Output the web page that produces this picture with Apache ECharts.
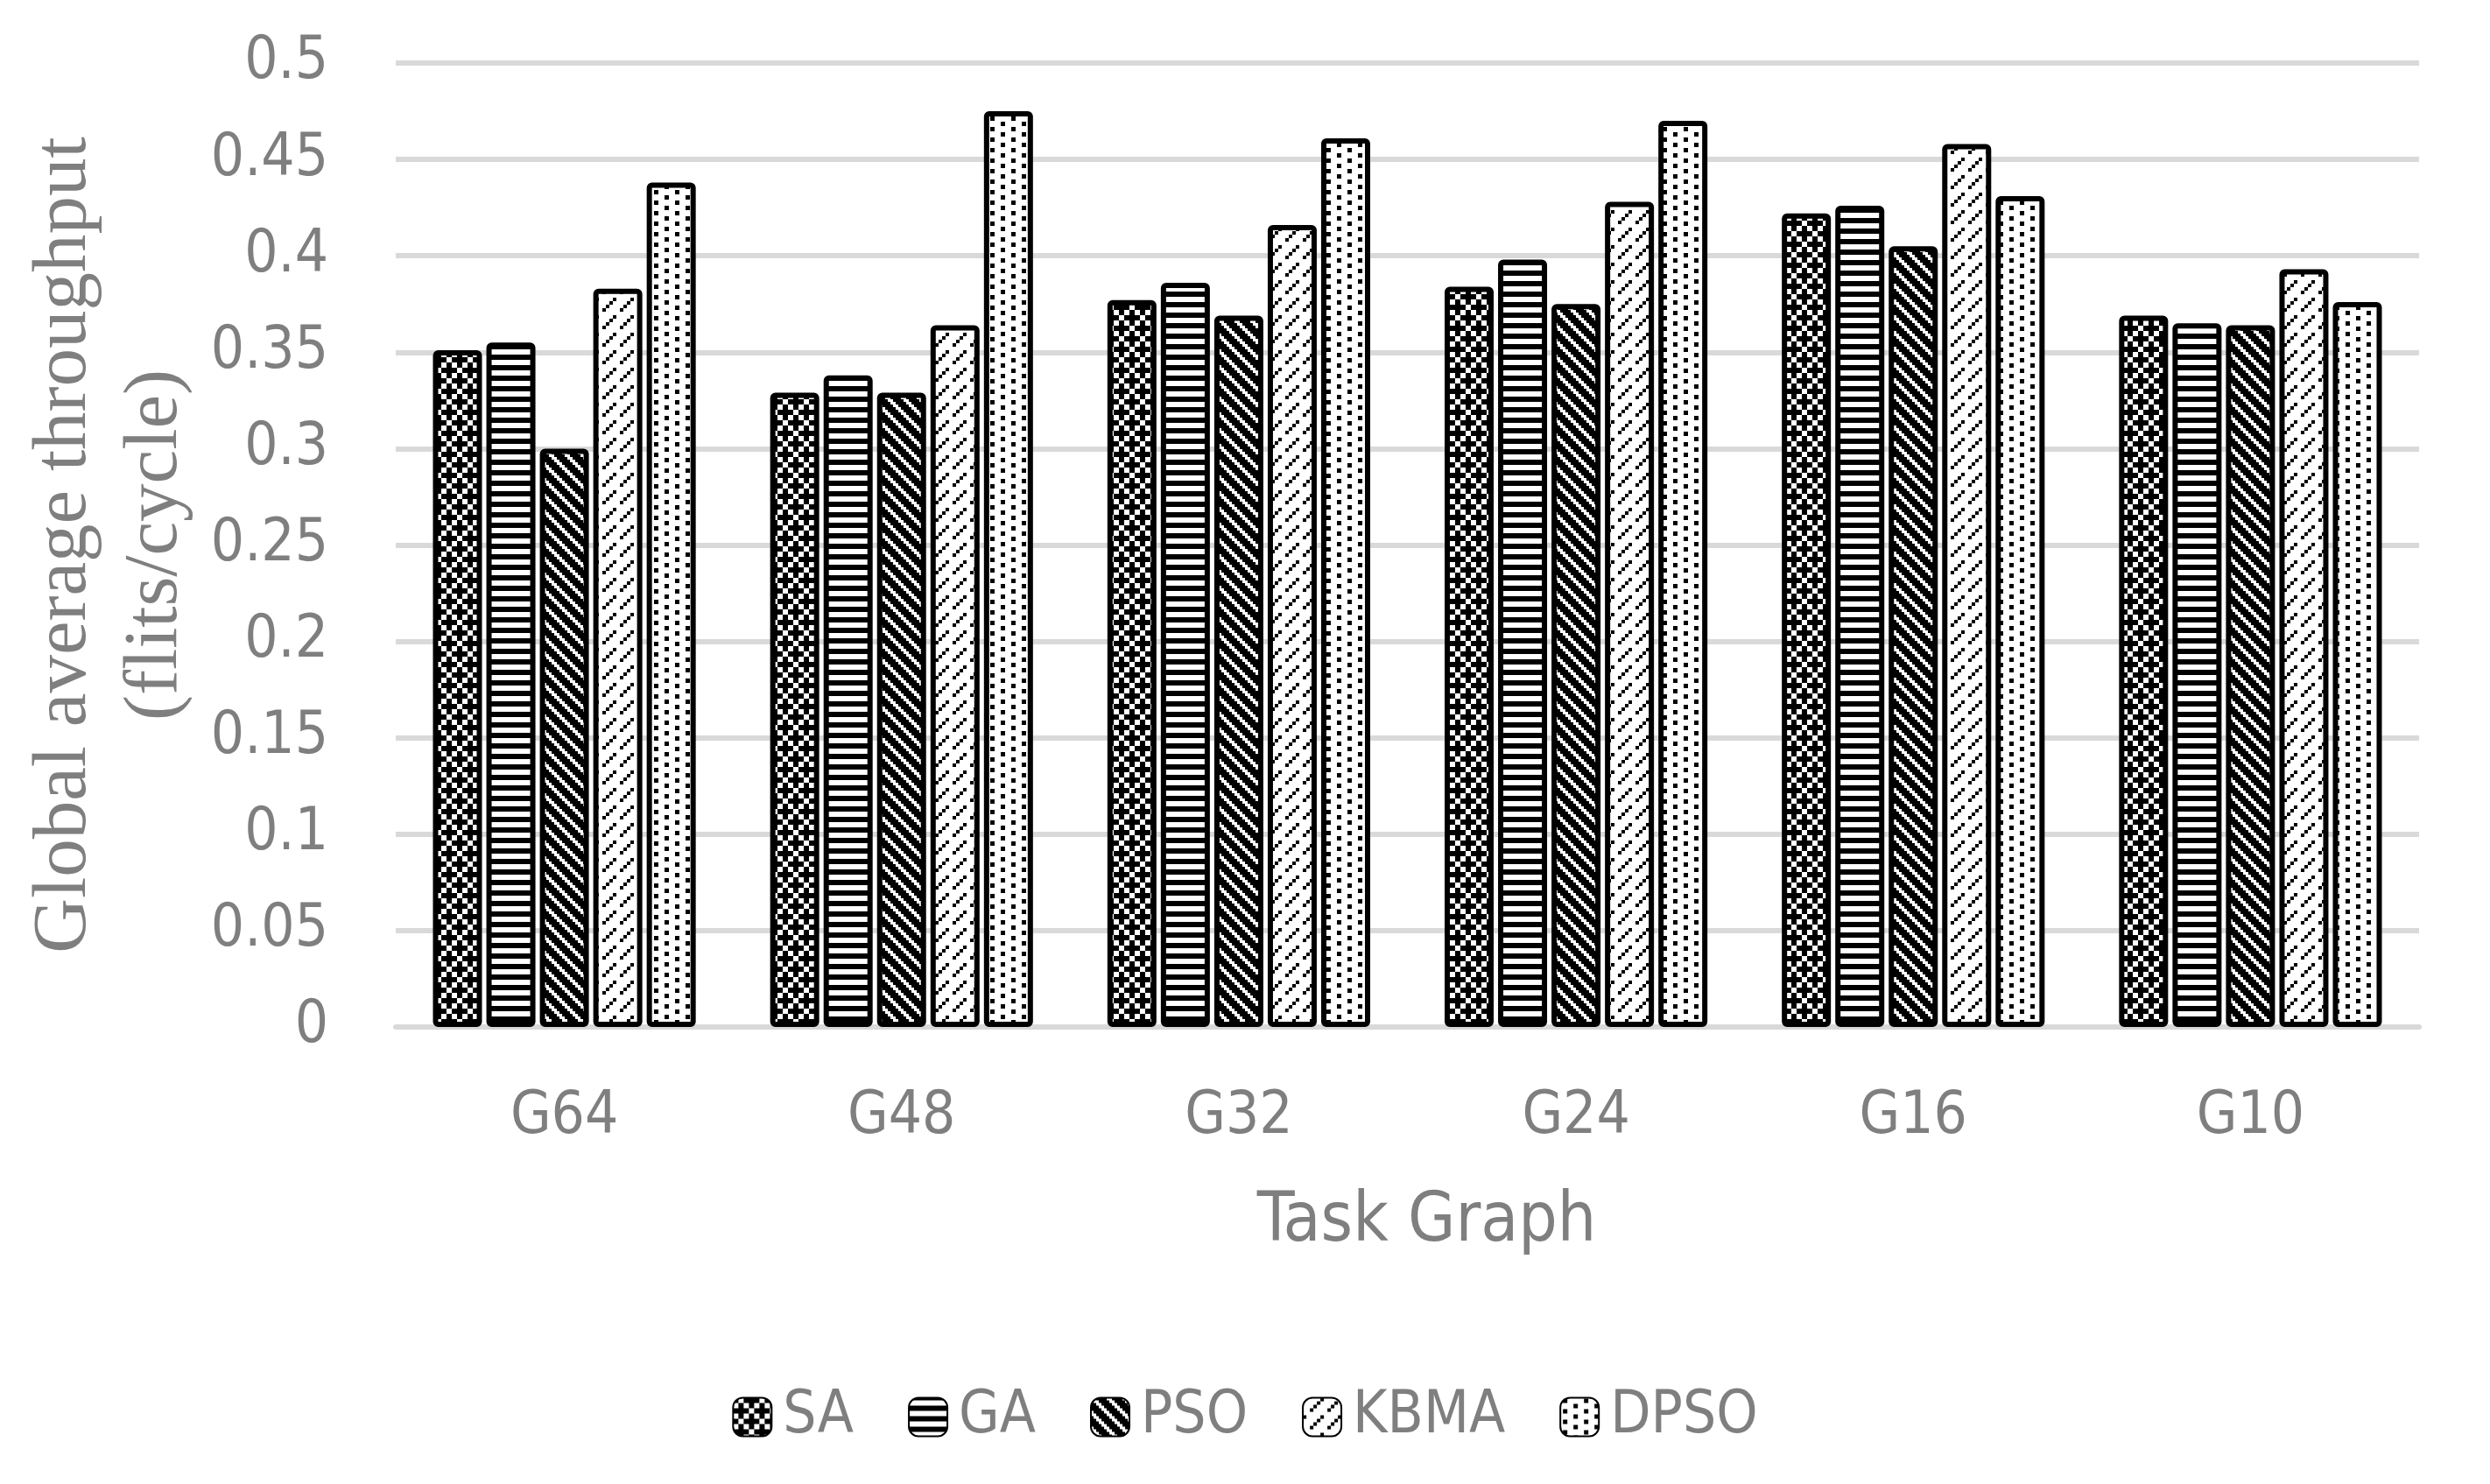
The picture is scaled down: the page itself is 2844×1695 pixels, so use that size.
<!DOCTYPE html>
<html>
<head>
<meta charset="utf-8">
<script src="https://cdn.jsdelivr.net/npm/echarts@6/dist/echarts.min.js"></script>
<style>
html,body{margin:0;padding:0;background:#fff;}
#chart{width:2844px;height:1695px;}
</style>
</head>
<body>
<div id="chart"></div>
<script>
// ---- data ----
var categories = ['G64', 'G48', 'G32', 'G24', 'G16', 'G10'];
var seriesNames = ['SA', 'GA', 'PSO', 'KBMA', 'DPSO'];
var SA   = [0.351, 0.329, 0.377, 0.384, 0.422, 0.369];
var GA   = [0.355, 0.338, 0.386, 0.398, 0.426, 0.365];
var PSO  = [0.300, 0.329, 0.369, 0.375, 0.405, 0.364];
var KBMA = [0.383, 0.364, 0.416, 0.428, 0.458, 0.393];
var DPSO = [0.438, 0.475, 0.461, 0.470, 0.431, 0.376];
var yTicks = {min: 0, max: 0.5, interval: 0.05};

// ---- pattern tiles ----
function tile(w, h, bg, draw) {
  var c = document.createElement('canvas');
  c.width = w; c.height = h;
  var g = c.getContext('2d');
  g.fillStyle = bg; g.fillRect(0, 0, w, h);
  draw(g);
  return c;
}
function cellMatrix(mat, cw, ch, fg) {
  return function (g) {
    g.fillStyle = fg;
    for (var r = 0; r < mat.length; r++)
      for (var c = 0; c < mat[r].length; c++)
        if (mat[r][c]) g.fillRect(c * cw, r * ch, cw, ch);
  };
}
// SA: black with white lattice
var saTile = tile(24, 24, '#000', cellMatrix([
  [0,1,0,0],
  [1,0,1,0],
  [0,0,0,1],
  [1,0,1,0]
], 6, 6, '#fff'));
// GA: horizontal stripes
var gaTile = tile(12, 12, '#000', function (g) { g.fillStyle = '#fff'; g.fillRect(0, 3, 12, 6); });
// PSO: wide downward diagonal (black dominant)
var psoMat = [];
for (var r = 0; r < 6; r++) { var row = []; for (var c = 0; c < 6; c++) row.push(((c - r + 12) % 6) < 2 ? 1 : 0); psoMat.push(row); }
var psoTile = tile(18, 18, '#000', cellMatrix(psoMat, 3, 3, '#fff'));
// KBMA: dashed upward diagonal
var kbMat = [];
for (var r2 = 0; r2 < 10; r2++) { var row2 = []; for (var c2 = 0; c2 < 10; c2++) row2.push(((c2 + r2) % 5 === 0 && (r2 % 5) !== 4) ? 1 : 0); kbMat.push(row2); }
var kbmaTile = tile(40, 40, '#fff', cellMatrix(kbMat, 4, 4, '#000'));
// DPSO: dots
var dpsoTile = tile(24, 12, '#fff', function (g) {
  g.fillStyle = '#000';
  g.fillRect(3, 1, 5, 5);
  g.fillRect(15, 7, 5, 5);
});
var tiles = [saTile, gaTile, psoTile, kbmaTile, dpsoTile];
var values = [SA, GA, PSO, KBMA, DPSO];

var gray = '#7f7f7f';
var sansNarrow = "'Liberation Sans Narrow', 'Arial Narrow', 'DejaVu Sans Condensed', sans-serif";

var chart = echarts.init(document.getElementById('chart'), null, {renderer: 'canvas'});
var series = seriesNames.map(function (n, i) {
  return {
    name: n,
    type: 'bar',
    data: values[i],
    barWidth: 56,
    barGap: '9%',
    itemStyle: {
      color: {image: tiles[i], repeat: 'repeat'},
      borderColor: '#000',
      borderWidth: 6,
      borderRadius: 3
    },
    emphasis: {disabled: true}
  };
});

chart.setOption({
  backgroundColor: '#fff',
  animation: false,
  grid: {left: 452, right: 81, top: 72, bottom: 522},
  legend: {
    data: seriesNames,
    left: 'center',
    top: 1580,
    itemWidth: 44,
    itemHeight: 44,
    itemGap: 62,
    icon: 'roundRect',
    textStyle: {color: gray, fontSize: 67, fontFamily: sansNarrow, padding: [0, 0, 0, 8]}
  },
  xAxis: {
    type: 'category',
    data: categories,
    name: 'Task Graph',
    nameLocation: 'middle',
    nameGap: 185,
    nameTextStyle: {color: gray, fontSize: 78, fontFamily: sansNarrow, padding: [0, 0, 0, 44]},
    axisLine: {show: true, lineStyle: {color: '#d9d9d9', width: 6}},
    axisTick: {show: false},
    axisLabel: {color: gray, fontSize: 67, fontFamily: sansNarrow, margin: 70}
  },
  yAxis: {
    type: 'value',
    min: yTicks.min,
    max: yTicks.max,
    interval: yTicks.interval,
    name: 'Global average throughput\n(flits/cycle)',
    nameLocation: 'middle',
    nameRotate: 90,
    nameGap: 219,
    nameTextStyle: {color: gray, fontSize: 87, fontFamily: "'Liberation Serif', 'Times New Roman', serif", lineHeight: 104},
    axisLine: {show: false},
    axisTick: {show: false},
    splitLine: {lineStyle: {color: '#d9d9d9', width: 6}},
    axisLabel: {color: gray, fontSize: 67, fontFamily: sansNarrow, margin: 77}
  },
  series: series
});
</script>
</body>
</html>
